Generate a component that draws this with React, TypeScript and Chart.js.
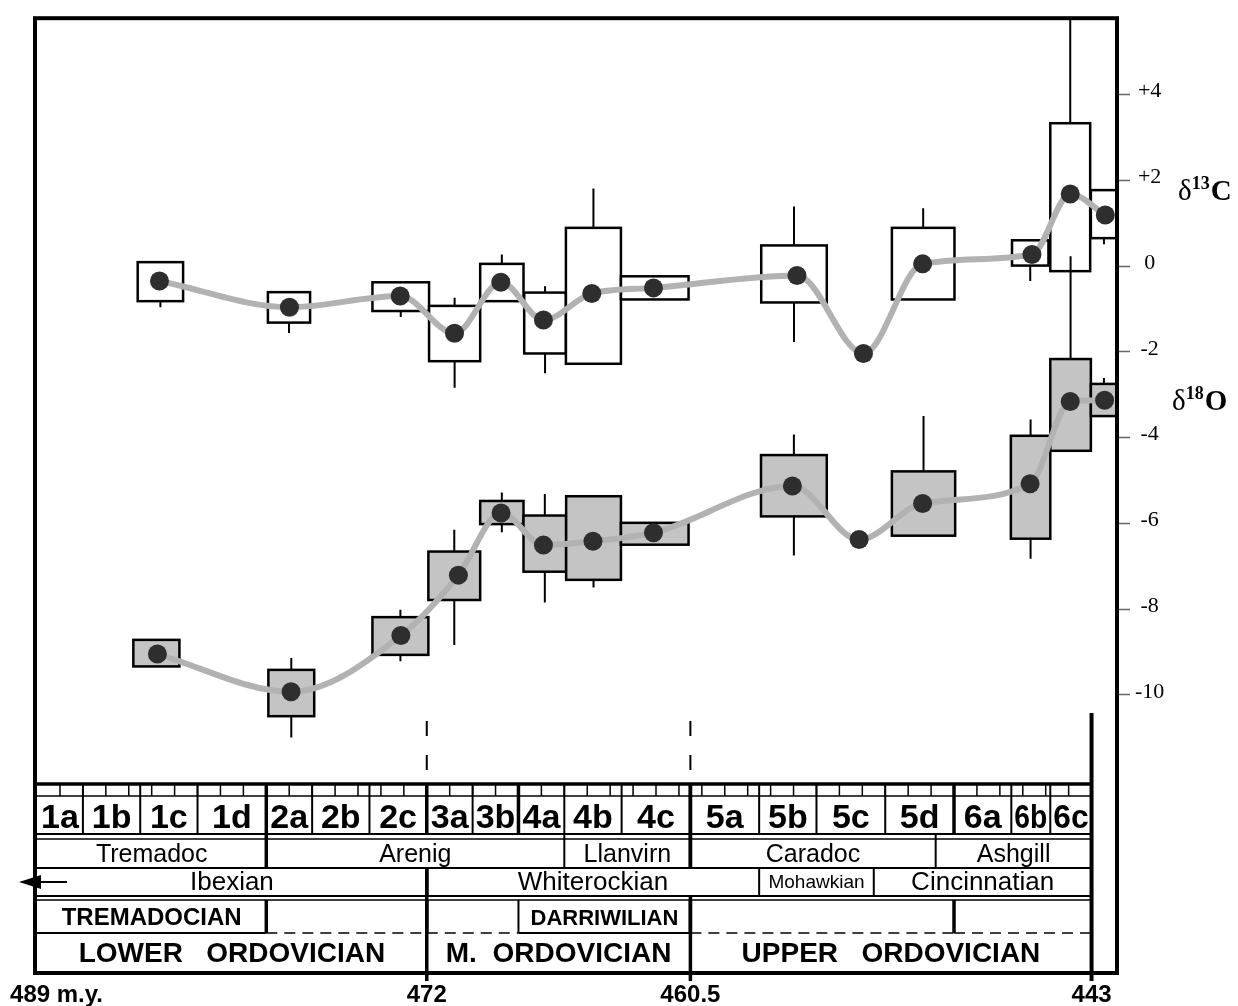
import React, { useEffect, useRef } from 'react';
import { Chart, registerables } from 'chart.js';

Chart.register(...registerables);

const SANS = "'Liberation Sans', Arial, Helvetica, sans-serif";
const SERIF = "'Liberation Serif', 'Times New Roman', serif";

// ---- δ13C series (times in m.y., values in per mil) ----
const cX0 = [484.61, 478.93, 474.37, 471.90, 469.67, 467.75, 465.93, 463.53, 457.41, null, 451.71, 446.47, 444.80, 443.03];
const cX1 = [482.63, 477.09, 471.90, 469.67, 467.78, 465.93, 463.53, 460.58, 454.55, null, 448.98, 444.88, 443.06, 441.89];
const cBoxHi = [0.09, -0.61, -0.38, -0.93, 0.05, -0.62, 0.89, -0.24, 0.48, null, 0.89, 0.60, 3.33, 1.77];
const cBoxLo = [-0.82, -1.32, -1.05, -2.22, -0.82, -2.04, -2.28, -0.78, -0.85, null, -0.78, 0.01, -0.12, 0.65];
const cWhiskHi = [null, null, null, -0.74, 0.27, -0.47, 1.81, null, 1.39, null, 1.35, null, 6.0, null];
const cWhiskLo = [-0.96, -1.56, -1.19, -2.84, null, -2.50, null, null, -1.77, null, null, -0.35, null, 0.51];
const cTime = [483.66, 477.99, 473.16, 470.79, 468.77, 466.91, 464.80, 462.11, 455.85, 452.95, 450.37, 445.60, 443.93, 442.40];
const cMean = [-0.35, -0.96, -0.70, -1.57, -0.38, -1.26, -0.64, -0.51, -0.22, -2.04, 0.05, 0.27, 1.68, 1.19];

// ---- δ18O series ----
const oX0 = [484.80, 478.91, 474.37, 471.93, 469.67, 467.78, 465.92, 463.53, 457.42, null, 451.71, 446.52, 444.80, 443.03];
const oX1 = [482.79, 476.91, 471.93, 469.67, 467.78, 465.92, 463.53, 460.58, 454.55, null, 448.95, 444.80, 443.03, 441.89];
const oBoxHi = [-8.72, -9.42, -8.19, -6.66, -5.48, -5.82, -5.37, -5.99, -4.41, null, -4.79, -3.96, -2.17, -2.75];
const oBoxLo = [-9.34, -10.50, -9.07, -7.79, -6.02, -7.13, -7.32, -6.50, -5.84, null, -6.29, -6.36, -4.31, -3.50];
const oWhiskHi = [null, -9.14, -8.02, -6.15, -5.28, -5.32, null, null, -3.93, null, -3.50, -3.58, 0.23, -2.61];
const oWhiskLo = [null, -11.00, -9.22, -8.84, -6.21, -7.85, -7.50, null, -6.75, null, null, -6.83, null, null];
const oTime = [483.75, 477.92, 473.13, 470.62, 468.76, 466.91, 464.75, 462.11, 456.05, 453.14, 450.37, 445.68, 443.93, 442.43];
const oMean = [-9.05, -9.93, -8.62, -7.21, -5.76, -6.51, -6.42, -6.22, -5.13, -6.38, -5.54, -5.08, -3.16, -3.13];

// ---- axes ----
const xMin = 441.89;
const xMax = 489.09;
const yMin = -16.49;
const yMax = 5.78;
const yTickValues = [-10, -8, -6, -4, -2, 0, 2, 4];
const xLabelValues = [489, 472, 460.5, 443];
const xLabelTexts = ['489 m.y.', '472', '460.5', '443'];
const markerTimes = [472, 460.5];

// ---- stratigraphic table ----
const zoneNames = ['1a', '1b', '1c', '1d', '2a', '2b', '2c', '3a', '3b', '4a', '4b', '4c', '5a', '5b', '5c', '5d', '6a', '6b', '6c'];
const zoneBounds = [489, 487, 484.5, 482, 479, 477, 474.5, 472, 470, 468, 466, 463.5, 460.5, 457.5, 455, 452, 449, 446.5, 444.8, 443];
const seriesBounds = [479, 472, 468, 460.5, 449];
const stageNames = ['Tremadoc', 'Arenig', 'Llanvirn', 'Caradoc', 'Ashgill'];
const stageBounds = [489, 479, 466, 460.5, 449.8, 443];
const naNames = ['Ibexian', 'Whiterockian', 'Mohawkian', 'Cincinnatian'];
const naBounds = [489, 472, 457.5, 452.5, 443];
const gsNames = ['TREMADOCIAN', '', '', 'DARRIWILIAN', '', ''];
const gsBounds = [489, 479, 472, 468, 460.5, 449, 443];
const epochNames = ['LOWER   ORDOVICIAN', 'M.  ORDOVICIAN', 'UPPER   ORDOVICIAN'];
const epochBounds = [489, 472, 460.5, 443];

const figurePlugin = {
  id: 'figure',
  beforeDatasetsDraw(chart: any) {
    const ctx: CanvasRenderingContext2D = chart.ctx;
    const xs = chart.scales.x;
    const ys = chart.scales.y;
    const area = chart.chartArea;
    const X = (t: number) => xs.getPixelForValue(t);
    const Y = (v: number) => ys.getPixelForValue(v);
    const L = area.left;
    const RT = X(443);

    const hline = (y: number, x0: number, x1: number, lw: number, dash?: number[]) => {
      ctx.save();
      ctx.lineWidth = lw;
      ctx.strokeStyle = '#000';
      if (dash) ctx.setLineDash(dash);
      ctx.beginPath();
      ctx.moveTo(x0, y);
      ctx.lineTo(x1, y);
      ctx.stroke();
      ctx.restore();
    };
    const vline = (x: number, y0: number, y1: number, lw: number, dash?: number[]) => {
      ctx.save();
      ctx.lineWidth = lw;
      ctx.strokeStyle = '#000';
      if (dash) ctx.setLineDash(dash);
      ctx.beginPath();
      ctx.moveTo(x, y0);
      ctx.lineTo(x, y1);
      ctx.stroke();
      ctx.restore();
    };
    const text = (s: string, x: number, y: number, font: string, maxW?: number) => {
      ctx.save();
      ctx.font = font;
      ctx.fillStyle = '#000';
      ctx.textAlign = 'center';
      ctx.textBaseline = 'alphabetic';
      if (maxW && ctx.measureText(s).width > maxW) ctx.fillText(s, x, y, maxW);
      else ctx.fillText(s, x, y);
      ctx.restore();
    };

    // rows of the table (pixel layout)
    const rTop = 784, rTick = 796, rZone = 834, rStage = 839, rStageB = 868, rNA = 896, rGS = 900, rGSB = 933;

    hline(rTop, L, RT, 3.5);
    hline(rTick, L, RT, 1.5);
    hline(rZone, L, RT, 2);
    hline(rStage, L, RT, 1.5);
    hline(rStageB, L, RT, 2);
    hline(rNA, L, RT, 2);
    hline(rGS, L, RT, 1.5);

    // 1 m.y. ticks
    for (let t = 488; t >= 444; t--) vline(X(t), rTop, rTick, 1.5);

    // zones
    for (let i = 1; i < zoneBounds.length - 1; i++) {
      const b = zoneBounds[i];
      vline(X(b), rTop, rZone, seriesBounds.includes(b) ? 3.5 : 2);
    }
    for (let i = 0; i < zoneNames.length; i++) {
      const x0 = X(zoneBounds[i]);
      const x1 = X(zoneBounds[i + 1]);
      text(zoneNames[i], (x0 + x1) / 2, 828, `bold 34px ${SANS}`, Math.abs(x1 - x0) - 6);
    }

    // stages
    for (let i = 1; i < stageBounds.length - 1; i++) {
      const b = stageBounds[i];
      vline(X(b), rZone, rStageB, b === 479 || b === 460.5 ? 3.5 : 2);
    }
    for (let i = 0; i < stageNames.length; i++) {
      text(stageNames[i], (X(stageBounds[i]) + X(stageBounds[i + 1])) / 2, 862, `25px ${SANS}`);
    }

    // North American series
    for (let i = 1; i < naBounds.length - 1; i++) {
      vline(X(naBounds[i]), rStageB, rNA, naBounds[i] === 472 ? 3.5 : 2);
    }
    for (let i = 0; i < naNames.length; i++) {
      const small = naNames[i] === 'Mohawkian';
      text(naNames[i], (X(naBounds[i]) + X(naBounds[i + 1])) / 2, small ? 888 : 890, small ? `19px ${SANS}` : `26px ${SANS}`);
    }
    // arrow (continues to older strata)
    ctx.save();
    ctx.fillStyle = '#000';
    ctx.beginPath();
    ctx.moveTo(19, 882);
    ctx.lineTo(41, 875);
    ctx.lineTo(41, 889);
    ctx.closePath();
    ctx.fill();
    ctx.restore();
    hline(882, 40, 67, 2);

    // global stages
    for (let i = 1; i < gsBounds.length - 1; i++) {
      const b = gsBounds[i];
      vline(X(b), rGS, rGSB, b === 468 ? 2 : 3.5);
    }
    for (let i = 0; i < gsNames.length; i++) {
      const x0 = X(gsBounds[i]);
      const x1 = X(gsBounds[i + 1]);
      if (gsNames[i]) {
        hline(rGSB, x0, x1, 2);
        text(gsNames[i], (x0 + x1) / 2, 925, gsNames[i] === 'DARRIWILIAN' ? `bold 22px ${SANS}` : `bold 24px ${SANS}`);
      } else {
        hline(rGSB, x0, x1, 1.5, [11, 7]);
      }
    }

    // epochs
    for (let i = 0; i < epochNames.length; i++) {
      text(epochNames[i], (X(epochBounds[i]) + X(epochBounds[i + 1])) / 2, 962, `bold 28px ${SANS}`);
    }

    // long boundary lines
    vline(X(472), rStageB, 981, 3.5);
    vline(X(460.5), rTop, rStageB, 3.5);
    vline(X(460.5), rNA, 981, 3.5);
    vline(X(443), 713, 981, 4);

    // dashed markers above the table
    for (const t of markerTimes) vline(X(t), 721, rTop, 2, [15, 19]);

    // boxes and whiskers
    ctx.save();
    ctx.beginPath();
    ctx.rect(area.left, area.top, area.right - area.left, area.bottom - area.top);
    ctx.clip();
    const drawBoxes = (x0s: any[], x1s: any[], his: any[], los: any[], fill: string) => {
      for (let i = 0; i < x0s.length; i++) {
        if (x0s[i] == null) continue;
        const xa = X(x0s[i]);
        const xb = X(x1s[i]);
        const ya = Y(his[i]);
        const yb = Y(los[i]);
        ctx.fillStyle = fill;
        ctx.fillRect(xa, ya, xb - xa, yb - ya);
        ctx.lineWidth = 2.5;
        ctx.strokeStyle = '#000';
        ctx.strokeRect(xa, ya, xb - xa, yb - ya);
      }
    };
    const drawWhiskers = (x0s: any[], x1s: any[], his: any[], los: any[], wh: any[], wl: any[]) => {
      ctx.lineWidth = 2;
      ctx.strokeStyle = '#000';
      for (let i = 0; i < x0s.length; i++) {
        if (x0s[i] == null) continue;
        const xc = (X(x0s[i]) + X(x1s[i])) / 2;
        if (wh[i] != null) {
          ctx.beginPath();
          ctx.moveTo(xc, Y(his[i]));
          ctx.lineTo(xc, Y(wh[i]));
          ctx.stroke();
        }
        if (wl[i] != null) {
          ctx.beginPath();
          ctx.moveTo(xc, Y(los[i]));
          ctx.lineTo(xc, Y(wl[i]));
          ctx.stroke();
        }
      }
    };
    drawBoxes(oX0, oX1, oBoxHi, oBoxLo, '#c4c4c4');
    drawBoxes(cX0, cX1, cBoxHi, cBoxLo, '#ffffff');
    drawWhiskers(oX0, oX1, oBoxHi, oBoxLo, oWhiskHi, oWhiskLo);
    drawWhiskers(cX0, cX1, cBoxHi, cBoxLo, cWhiskHi, cWhiskLo);
    ctx.restore();
  },
  afterDatasetsDraw(chart: any) {
    const ctx: CanvasRenderingContext2D = chart.ctx;
    const xs = chart.scales.x;
    const area = chart.chartArea;
    const X = (t: number) => xs.getPixelForValue(t);

    // frame
    ctx.save();
    ctx.lineWidth = 4;
    ctx.strokeStyle = '#000';
    ctx.strokeRect(area.left, area.top, area.right - area.left, area.bottom - area.top);
    ctx.restore();

    // time labels
    ctx.save();
    ctx.fillStyle = '#000';
    ctx.font = `bold 24px ${SANS}`;
    ctx.textBaseline = 'alphabetic';
    for (let i = 0; i < xLabelValues.length; i++) {
      if (i === 0) {
        ctx.textAlign = 'left';
        ctx.fillText(xLabelTexts[i], X(xLabelValues[i]) - 27, 1002);
      } else {
        ctx.textAlign = 'center';
        ctx.fillText(xLabelTexts[i], X(xLabelValues[i]), 1002);
      }
    }
    ctx.restore();

    // isotope labels
    const delta = (x: number, base: number, sup: string, letter: string) => {
      ctx.save();
      ctx.fillStyle = '#000';
      ctx.textAlign = 'left';
      ctx.textBaseline = 'alphabetic';
      ctx.font = `29px ${SERIF}`;
      ctx.fillText('δ', x, base);
      let w = ctx.measureText('δ').width;
      ctx.font = `bold 18px ${SERIF}`;
      ctx.fillText(sup, x + w, base - 11);
      w += ctx.measureText(sup).width + 1;
      ctx.font = `bold 29px ${SERIF}`;
      ctx.fillText(letter, x + w, base);
      ctx.restore();
    };
    delta(1178, 200, '13', 'C');
    delta(1172, 410, '18', 'O');
  },
};

export default function App() {
  const ref = useRef<HTMLCanvasElement | null>(null);
  useEffect(() => {
    if (!ref.current) return;
    const chart = new Chart(ref.current, {
      type: 'line',
      data: {
        datasets: [
          {
            label: 'δ13C',
            data: cTime.map((t, i) => ({ x: t, y: cMean[i] })),
            borderColor: '#b2b2b2',
            borderWidth: 6,
            cubicInterpolationMode: 'monotone',
            pointRadius: 9.5,
            pointHoverRadius: 9.5,
            pointBackgroundColor: '#2e2e2e',
            pointBorderColor: '#2e2e2e',
            pointBorderWidth: 0,
            fill: false,
          },
          {
            label: 'δ18O',
            data: oTime.map((t, i) => ({ x: t, y: oMean[i] })),
            borderColor: '#b2b2b2',
            borderWidth: 6,
            cubicInterpolationMode: 'monotone',
            pointRadius: 9.5,
            pointHoverRadius: 9.5,
            pointBackgroundColor: '#2e2e2e',
            pointBorderColor: '#2e2e2e',
            pointBorderWidth: 0,
            fill: false,
          },
        ],
      },
      options: {
        animation: false,
        responsive: false,
        maintainAspectRatio: false,
        devicePixelRatio: 1,
        events: [],
        layout: { padding: { left: 35, top: 12, bottom: 33, right: 0 } },
        plugins: { legend: { display: false }, tooltip: { enabled: false }, title: { display: false } },
        scales: {
          x: { type: 'linear', reverse: true, min: xMin, max: xMax, display: false },
          y: {
            type: 'linear',
            position: 'right',
            min: yMin,
            max: yMax,
            afterFit: (s: any) => { s.width = 121; },
            afterBuildTicks: (s: any) => { s.ticks = yTickValues.map((v) => ({ value: v })); },
            ticks: {
              callback: (v: any) => (Number(v) > 0 ? '+' + v : String(v)),
              font: { family: SERIF, size: 22 },
              color: '#000',
              crossAlign: 'center',
              padding: 5,
              labelOffset: -3,
            },
            grid: { drawOnChartArea: false, drawTicks: true, tickLength: 13, tickColor: '#666', tickWidth: 1.5 },
            border: { display: false },
          },
        },
      } as any,
      plugins: [figurePlugin],
    });
    return () => chart.destroy();
  }, []);
  return (
    <div style={{ position: 'fixed', left: 0, top: 0, width: 1238, height: 1006, background: '#fff' }}>
      <canvas ref={ref} width={1238} height={1006} style={{ display: 'block' }} />
    </div>
  );
}
